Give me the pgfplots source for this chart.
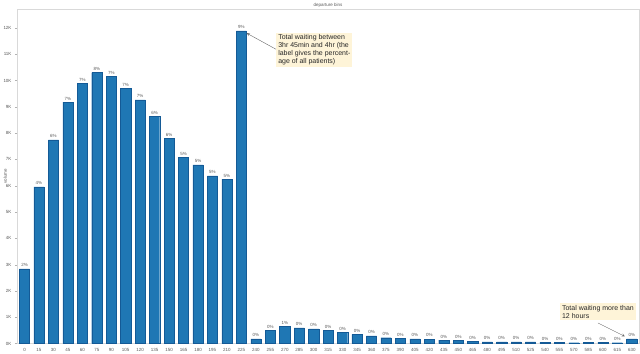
\documentclass[border=0pt]{standalone}
\usepackage{fontspec}
\setmainfont{Liberation Sans}
\usepackage{pgfplots}
\pgfplotsset{compat=1.18}
\usepackage{pgfplotstable}
\definecolor{barblue}{RGB}{31,119,180}
\definecolor{baredge}{RGB}{20,90,150}
\definecolor{notefill}{RGB}{254,244,216}
\pgfplotstableread{
idx val pct
0 2.84 2
1 5.96 4
2 7.74 6
3 9.18 7
4 9.90 7
5 10.30 8
6 10.17 7
7 9.71 7
8 9.26 7
9 8.63 6
10 7.80 6
11 7.07 5
12 6.79 5
13 6.37 5
14 6.25 5
15 11.89 9
16 0.18 0
17 0.51 0
18 0.64 1
19 0.59 0
20 0.56 0
21 0.51 0
22 0.43 0
23 0.35 0
24 0.29 0
25 0.22 0
26 0.20 0
27 0.18 0
28 0.17 0
29 0.13 0
30 0.11 0
31 0.08 0
32 0.06 0
33 0.06 0
34 0.06 0
35 0.06 0
36 0.05 0
37 0.05 0
38 0.03 0
39 0.04 0
40 0.05 0
41 0.03 0
42 0.18 0
}\datatable
\begin{document}
\begin{tikzpicture}
\begin{axis}[
  scale only axis,
  width=622bp, height=334.5bp,
  xmin=-0.52, xmax=42.5,
  ymin=0, ymax=12.72,
  axis line style={draw=black!15},
  xtick={0,...,42},
  xticklabel={\pgfmathtruncatemacro\v{\tick*15}\v},
  ytick={0,...,12},
  yticklabel={\pgfmathprintnumber{\tick}K},
  /pgf/number format/assume math mode=true,
  tick label style={font=\fontsize{4.5}{5}\selectfont, text=black!65},
  ytick pos=left, xtick pos=bottom,
  tick align=outside,
  major tick length=2bp,
  ytick style={draw=black!30},
  xtick style={draw=none},
  xticklabel style={yshift=1bp},
  every axis title shift=0pt,
  title={departure bins},
  title style={font=\fontsize{4.5}{5}\selectfont, text=black!65, at={(axis description cs:0.5,1)}, anchor=south, inner sep=1.5bp},
  ylabel={volume},
  ylabel style={font=\fontsize{4.5}{5}\selectfont, text=black!65, at={(axis description cs:-0.019,0.5)}, anchor=center},
  clip=false,
]
\addplot[ybar, bar width=10.2bp, fill=barblue, draw=baredge, line width=0.4pt,
  nodes near coords={\pgfmathprintnumber{\pgfplotspointmeta}\%},
  point meta=explicit,
  every node near coord/.append style={font=\fontsize{4.5}{5}\selectfont, text=black!65, yshift=-1.5bp}]
  table[x=idx, y=val, meta=pct] {\datatable};
\node[fill=notefill, anchor=north west, align=left, font=\fontsize{7}{8}\selectfont, text=black!85, inner sep=2bp]
  at (axis cs:17.4,11.82) {Total waiting between\\3hr 45min and 4hr (the\\label gives the percent-\\age of all patients)};
\draw[-stealth, black!60, line width=0.4pt] (axis cs:17.39,11.19) -- (axis cs:15.37,11.8);
\node[fill=notefill, anchor=north west, align=left, font=\fontsize{7}{8}\selectfont, text=black!85, inner sep=2bp]
  at (axis cs:37.03,1.54) {Total waiting more than\\12 hours};
\draw[-stealth, black!60, line width=0.4pt] (axis cs:39.66,0.78) -- (axis cs:41.52,0.27);
\end{axis}
\path (current axis.south west) ++(-17bp,-10.5bp) coordinate (bl);
\path (current axis.north east) ++(1bp,9bp) coordinate (tr);
\pgfresetboundingbox
\path (bl) rectangle (tr);
\end{tikzpicture}
\end{document}
